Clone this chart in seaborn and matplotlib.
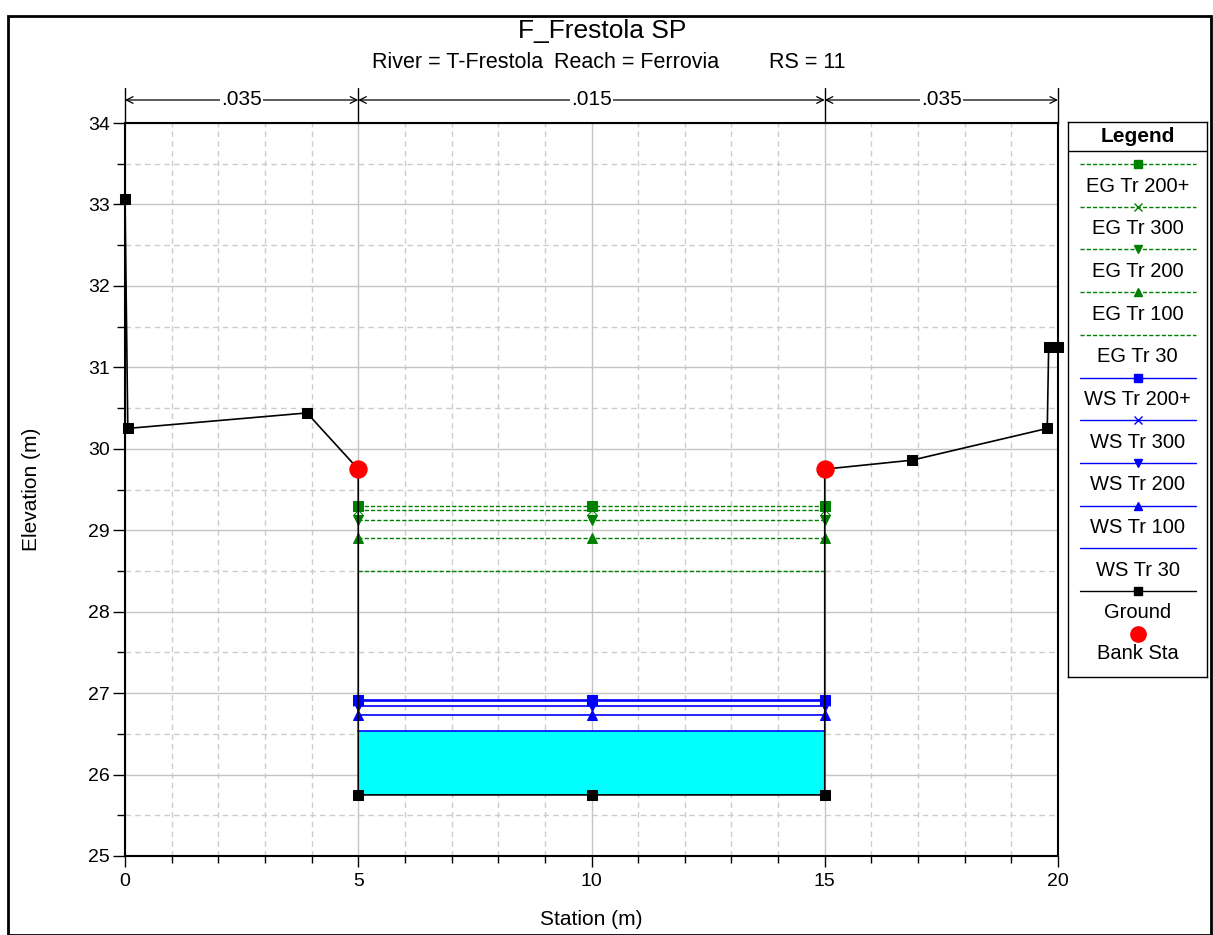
import numpy as np
import pandas as pd
import seaborn as sns
import matplotlib.pyplot as plt
from matplotlib.patches import Rectangle

sns.set_theme(style="white")
plt.rcParams['font.family'] = ['Liberation Sans', 'DejaVu Sans']
plt.rcParams['text.color'] = 'black'
plt.rcParams['axes.labelcolor'] = 'black'
plt.rcParams['xtick.color'] = 'black'
plt.rcParams['ytick.color'] = 'black'

# ground profile
ground_sta = [0, 0.06, 3.9, 5, 5, 10, 15, 15, 16.87, 19.77, 19.8, 20]
ground_elev = [33.07, 30.25, 30.44, 29.75, 25.75, 25.75, 25.75, 29.75, 29.86, 30.25, 31.25, 31.25]
bank_sta = [5, 15]
bank_elev = [29.75, 29.75]

# water surface / energy grade profiles (across main channel)
wl_sta = [5, 10, 15]
profiles = ["Tr 200+", "Tr 300", "Tr 200", "Tr 100", "Tr 30"]
eg_elev = [29.30, 29.25, 29.12, 28.90, 28.50]
ws_elev = [26.92, 26.90, 26.84, 26.73, 26.53]
markers = ["s", "x", "v", "^", None]

# manning's n
n_bounds = [0, 5, 15, 20]
n_values = [".035", ".015", ".035"]

W, H = 1213, 935
fig = plt.figure(figsize=(W / 100, H / 100), dpi=100)
ax = fig.add_axes([125 / W, 1 - 856 / H, 933 / W, 733 / H])

green = "#008000"
blue = "#0000FF"

# water fill for lowest WS
ax.fill_between(wl_sta, [ground_elev[4]] * 3, [ws_elev[-1]] * 3, color="#00FFFF", zorder=2, lw=0)

for p, e, m in zip(profiles, eg_elev, markers):
    sns.lineplot(x=wl_sta, y=[e] * 3, ax=ax, color=green, ls=(0, (3, 1.5)), lw=1,
                 marker=m, markersize=7, markeredgecolor=green, estimator=None, zorder=3)
for p, e, m in zip(profiles, ws_elev, markers):
    sns.lineplot(x=wl_sta, y=[e] * 3, ax=ax, color=blue, lw=1.2,
                 marker=m, markersize=7, markeredgecolor=blue, estimator=None, zorder=3)

sns.lineplot(x=ground_sta, y=ground_elev, ax=ax, sort=False, estimator=None, color="black",
             lw=1.2, marker="s", markersize=7, markeredgecolor="black", zorder=4, clip_on=False)
sns.scatterplot(x=bank_sta, y=bank_elev, ax=ax, color="red", s=150, edgecolor="red", zorder=5)

ax.set_xlim(0, 20)
ax.set_ylim(25, 34)
ax.set_xticks(range(0, 21, 5))
ax.set_xticks(range(0, 21), minor=True)
ax.set_yticks(range(25, 35))
ax.set_yticks(np.arange(25, 34.01, 0.5), minor=True)
ax.grid(which="major", color="#c4c4c4", lw=1, ls="-")
ax.grid(which="minor", color="#cccccc", lw=1, ls=(0, (4, 3)))
ax.set_axisbelow(True)
ax.tick_params(axis="y", which="major", direction="out", length=9, width=1, labelsize=14, left=True, pad=2)
ax.tick_params(axis="y", which="minor", direction="out", length=6, width=1, left=True)
ax.tick_params(axis="x", which="major", direction="out", length=8, width=1, labelsize=14, bottom=True, pad=4)
ax.tick_params(axis="x", which="minor", direction="out", length=5, width=1, bottom=True)
for s in ax.spines.values():
    s.set_color("black")
    s.set_linewidth(1.5)
ax.set_xlabel("Station (m)", fontsize=15, va="top")
ax.set_ylabel("Elevation (m)", fontsize=15)
ax.xaxis.set_label_coords(0.5, (856 - 910) / 733)
ax.yaxis.set_label_coords((41 - 125) / 933, 0.5)

# manning's n arrows
y_arr = 34 + 23 / 81.44
y_top = 34 + 35 / 81.44
for xb in n_bounds:
    ax.plot([xb, xb], [34, y_top], color="black", lw=1, clip_on=False)
for i, n in enumerate(n_values):
    x0, x1 = n_bounds[i], n_bounds[i + 1]
    ax.annotate("", xy=(x0, y_arr), xytext=(x1, y_arr), annotation_clip=False,
                arrowprops=dict(arrowstyle="<->", color="black", lw=0.9, shrinkA=0, shrinkB=0))
    ax.text((x0 + x1) / 2, y_arr, n, ha="center", va="center", fontsize=15,
            bbox=dict(facecolor="white", edgecolor="none", pad=1))

fig.text(602 / W, 1 - 31 / H, "F_Frestola SP", ha="center", va="center", fontsize=19)
fig.text(372 / W, 1 - 62 / H, "River = T-Frestola", ha="left", va="center", fontsize=15.5)
fig.text(554 / W, 1 - 62 / H, "Reach = Ferrovia", ha="left", va="center", fontsize=15.5)
fig.text(769 / W, 1 - 62 / H, "RS = 11", ha="left", va="center", fontsize=15.5)

# legend box
lax = fig.add_axes([1068 / W, 1 - 677 / H, 139 / W, 555 / H])
lax.set_xlim(0, 139)
lax.set_ylim(555, 0)
lax.set_xticks([])
lax.set_yticks([])
for s in lax.spines.values():
    s.set_color("black")
    s.set_linewidth(1)
lax.text(69.5, 14, "Legend", ha="center", va="center", fontsize=15, fontweight="bold")
lax.axhline(29, color="black", lw=1)
labels = ["EG " + p for p in profiles] + ["WS " + p for p in profiles] + ["Ground"]
colors = [green] * 5 + [blue] * 5 + ["black"]
styles = [(0, (3, 1.5))] * 5 + ["-"] * 6
mks = markers + markers + ["s"]
for i, (lab, c, st, m) in enumerate(zip(labels, colors, styles, mks)):
    yl = 42 + i * 42.7
    lax.plot([12, 128], [yl, yl], color=c, ls=st, lw=1)
    if m:
        lax.plot([69.5], [yl], color=c, marker=m, markersize=6, markeredgecolor=c)
    lax.text(69.5, yl + 22, lab, ha="center", va="center", fontsize=14.5)
yb = 42 + 11 * 42.7
lax.plot([69.5], [yb], "o", color="red", markersize=11)
lax.text(69.5, yb + 20, "Bank Sta", ha="center", va="center", fontsize=14.5)

# outer frame
fig.patches.append(Rectangle((8 / W, 0), 1 - 10 / W, 1 - 16 / H, transform=fig.transFigure,
                             fill=False, edgecolor="black", lw=2))

fig.savefig("out.png", dpi=100)
